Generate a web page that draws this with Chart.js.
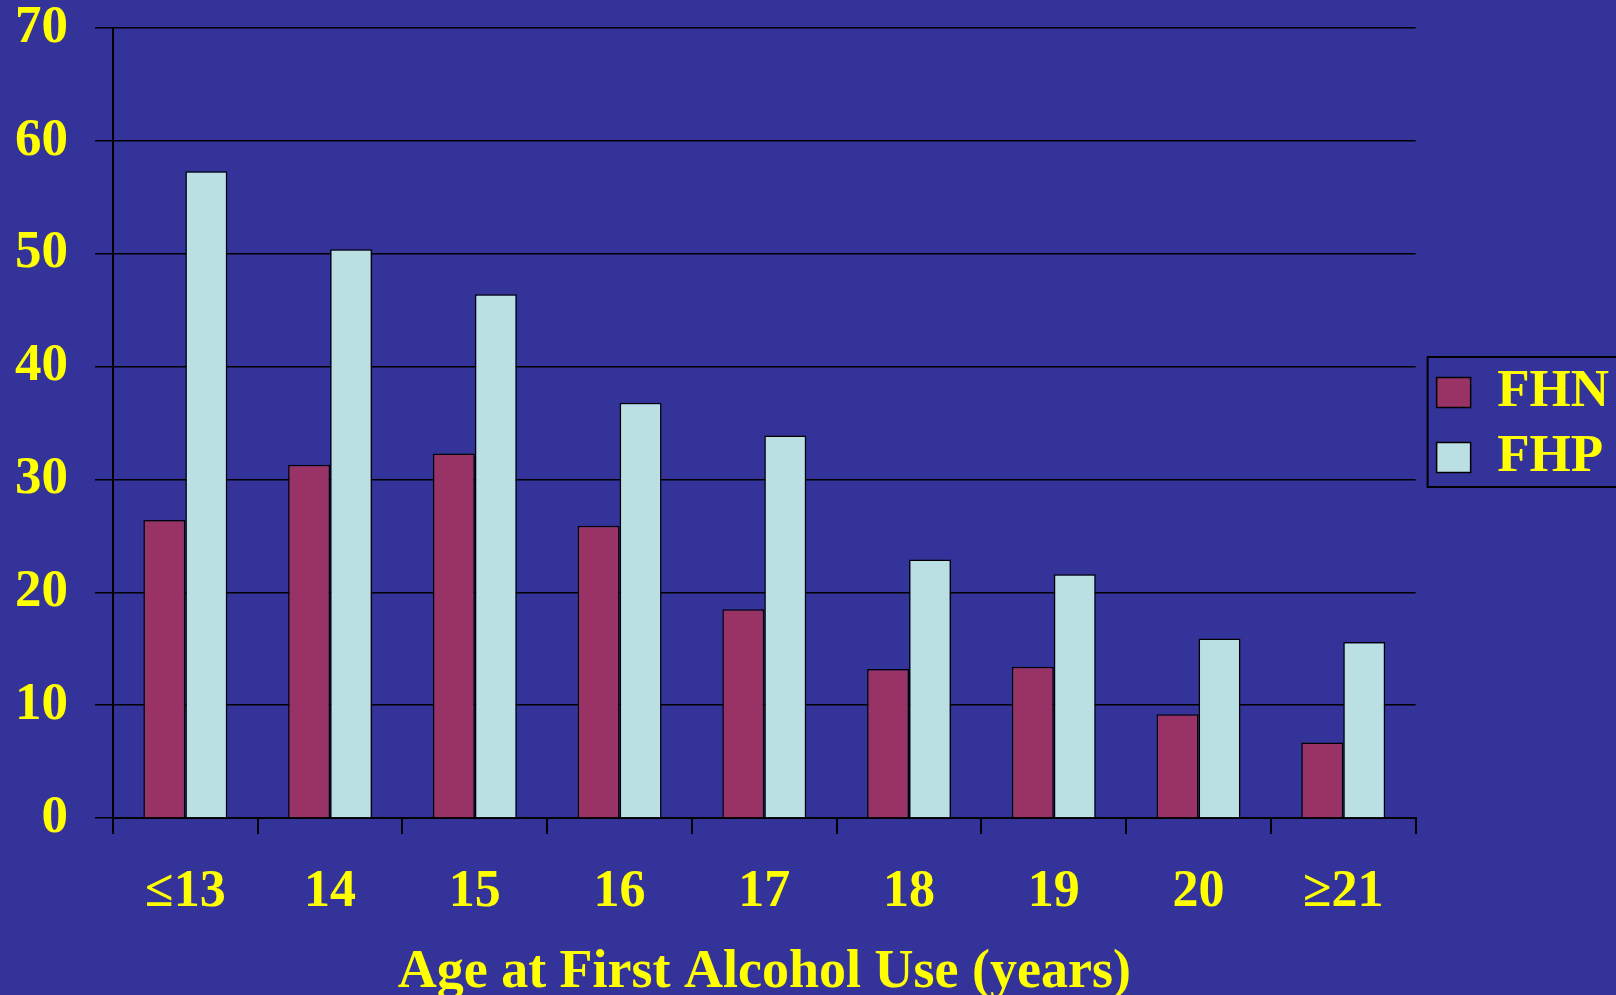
<!DOCTYPE html>
<html>
<head>
<meta charset="utf-8">
<script src="https://cdn.jsdelivr.net/npm/chart.js@4"></script>
<style>
  html, body { margin: 0; padding: 0; background: #333399; }
  canvas { display: block; }
</style>
</head>
<body>
<canvas id="ageChart" width="1616" height="995"></canvas>
<script>
// Chart data
const ageLabels = ['≤13', '14', '15', '16', '17', '18', '19', '20', '≥21'];
const fhnValues = [26.4, 31.3, 32.3, 25.9, 18.5, 13.2, 13.4, 9.2, 6.7];
const fhpValues = [57.3, 50.4, 46.4, 36.8, 33.9, 22.9, 21.6, 15.9, 15.6];
const yTicks = [0, 10, 20, 30, 40, 50, 60, 70];

const yellow = '#FFFF00';
const serif = '"Liberation Serif", "Times New Roman", serif';

// background fill + border round the legend
const slidePlugin = {
    id: 'slide',
    beforeDraw(chart) {
        const ctx = chart.ctx;
        ctx.save();
        ctx.fillStyle = '#333399';
        ctx.fillRect(0, 0, chart.width, chart.height);
        ctx.restore();
    },
    afterLayout(chart) {
        // push the legend a little to the right of the plot
        const lg = chart.legend;
        lg.left += 9;
        lg.right += 9;
        lg.top += 2;
        lg.bottom += 2;
    },
    afterDraw(chart) {
        const area = chart.chartArea;
        const mid = (area.top + area.bottom) / 2;
        const ctx = chart.ctx;
        ctx.save();
        ctx.strokeStyle = '#000';
        ctx.lineWidth = 2;
        ctx.strokeRect(area.right + 12, mid - 66, chart.width, 130);
        ctx.restore();
    }
};

const ctx = document.getElementById('ageChart').getContext('2d');
new Chart(ctx, {
    type: 'bar',
    data: {
        labels: ageLabels,
        datasets: [
            {
                label: 'FHN',
                data: fhnValues,
                backgroundColor: '#993366',
                borderColor: '#000',
                borderWidth: 1.5
            },
            {
                label: 'FHP',
                data: fhpValues,
                backgroundColor: '#BBE0E3',
                borderColor: '#000',
                borderWidth: 1.5
            }
        ]
    },
    options: {
        responsive: false,
        animation: false,
        devicePixelRatio: 1,
        datasets: {
            bar: { categoryPercentage: 0.58, barPercentage: 1.0 }
        },
        layout: {
            padding: { left: -12, right: 6, top: 0, bottom: 0 }
        },
        scales: {
            x: {
                grid: {
                    display: true,
                    drawOnChartArea: false,
                    drawTicks: true,
                    tickLength: 16,
                    color: '#000',
                    lineWidth: 2
                },
                border: { display: true, color: '#000', width: 2 },
                ticks: {
                    color: yellow,
                    padding: 33,
                    font: { family: serif, size: 52, weight: 'bold', lineHeight: 1.0 }
                },
                title: {
                    display: true,
                    text: 'Age at First Alcohol Use (years)',
                    color: yellow,
                    padding: { top: -6, bottom: -5 },
                    font: { family: serif, size: 54, weight: 'bold', lineHeight: 1.0 }
                }
            },
            y: {
                min: yTicks[0],
                max: yTicks[yTicks.length - 1],
                afterBuildTicks(scale) {
                    scale.ticks = yTicks.map(v => ({ value: v }));
                },
                afterFit(scale) {
                    // top label sits right on the top of the plot
                    scale.paddingTop = 28;
                },
                grid: {
                    color: '#000',
                    lineWidth: 1.5,
                    drawTicks: true,
                    tickLength: 18
                },
                border: { display: true, color: '#000', width: 2 },
                ticks: {
                    color: yellow,
                    padding: 27,
                    font: { family: serif, size: 53, weight: 'bold', lineHeight: 1.1 }
                }
            }
        },
        plugins: {
            legend: {
                display: true,
                position: 'right',
                fullSize: false,
                align: 'center',
                labels: {
                    color: yellow,
                    boxWidth: 34,
                    boxHeight: 30,
                    padding: 12,
                    font: { family: serif, size: 53, weight: 'bold' }
                }
            },
            tooltip: { enabled: false }
        }
    },
    plugins: [slidePlugin]
});
</script>
</body>
</html>
